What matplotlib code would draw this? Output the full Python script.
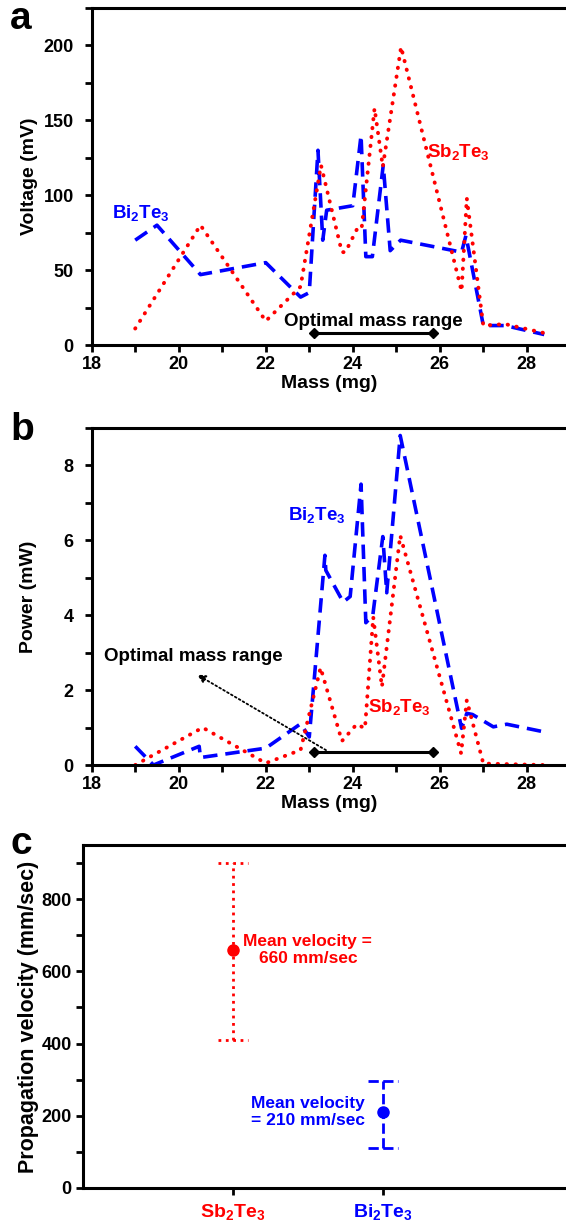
import matplotlib
matplotlib.use('Agg')
import matplotlib.pyplot as plt
from matplotlib.ticker import MultipleLocator
import numpy as np

plt.rcParams['font.family'] = ['Liberation Sans', 'DejaVu Sans']
plt.rcParams['font.weight'] = 'bold'
plt.rcParams['mathtext.fontset'] = 'custom'
plt.rcParams['mathtext.rm'] = 'Liberation Sans:bold'
plt.rcParams['mathtext.default'] = 'rm'

BI = r'Bi$_\mathrm{2}$Te$_\mathrm{3}$'
SB = r'Sb$_\mathrm{2}$Te$_\mathrm{3}$'

# panel a: voltage vs mass
bi_v_mass = [19.0, 19.5, 20.5, 22.0, 22.8, 23.0, 23.2, 23.31, 23.4, 24.0, 24.19, 24.3, 24.45,
             24.7, 24.86, 25.1, 26.5, 26.6, 27.0, 27.5, 28.4]
bi_v = [70, 80, 47, 55, 32, 35, 130, 70, 90, 93, 140, 59, 59,
        120, 63, 70, 62, 73, 13, 13, 7]
sb_v_mass = [19.0, 20.5, 22.0, 22.8, 23.27, 23.75, 23.83, 24.09, 24.2, 24.5, 24.69, 25.11,
             26.5, 26.62, 27.0, 27.5, 28.4]
sb_v = [11, 80, 16, 39, 120, 62, 62, 77, 77, 158, 119, 199,
        36, 98, 13, 14, 8]

# panel b: power vs mass
bi_p_mass = [19.0, 19.42, 20.47, 20.5, 22.0, 22.8, 23.0, 23.36, 23.38, 23.78, 23.94, 24.19,
             24.3, 24.46, 24.69, 24.78, 25.09, 26.5, 26.62, 26.75, 27.23, 27.54, 28.46]
bi_p = [0.5, 0.0, 0.5, 0.2, 0.45, 1.1, 0.75, 5.6, 5.2, 4.35, 4.5, 7.5,
        3.8, 4.0, 6.1, 4.6, 8.8, 0.98, 1.38, 1.35, 1.02, 1.09, 0.87]
sb_p_mass = [19.0, 20.55, 22.0, 22.8, 23.26, 23.75, 24.09, 24.28, 24.47, 24.67, 25.09,
             26.49, 26.62, 27.0, 28.4]
sb_p = [0.0, 1.0, 0.05, 0.4, 2.6, 0.64, 1.09, 0.98, 3.95, 2.09, 6.13,
        0.31, 1.73, 0.04, 0.0]

opt_range = [23.1, 25.85]

# panel c: propagation velocity
materials = [SB, BI]
mean_vel = [660, 210]
vel_low = [410, 110]
vel_high = [900, 295]
mat_colors = ['#ff0000', '#0000ff']
mat_styles = [':', '--']

blue = '#0000ff'
red = '#ff0000'

fig = plt.figure(figsize=(5.66, 12.27), dpi=100)
ax_a = fig.add_axes([0.162, 0.7188, 0.838, 0.2747])
ax_b = fig.add_axes([0.162, 0.3765, 0.838, 0.2747])
ax_c = fig.add_axes([0.1466, 0.0318, 0.8534, 0.2795])

for ax in (ax_a, ax_b, ax_c):
    ax.spines['right'].set_visible(False)
    for s in ('left', 'top', 'bottom'):
        ax.spines[s].set_linewidth(2.2)
    ax.tick_params(which='both', direction='out', width=2, length=5, labelsize=13, pad=3)
for ax in (ax_a, ax_b):
    ax.tick_params(axis='y', pad=8)

# --- a ---
ax_a.plot(bi_v_mass, bi_v, color=blue, ls=(0, (4, 2.2)), lw=2.6)
ax_a.plot(sb_v_mass, sb_v, color=red, ls=(0, (0.1, 2.2)), lw=2.8, dash_capstyle='round')
ax_a.set_xlim(18, 28.9)
ax_a.set_ylim(0, 225)
ax_a.xaxis.set_major_locator(MultipleLocator(2))
ax_a.xaxis.set_minor_locator(MultipleLocator(1))
ax_a.yaxis.set_major_locator(MultipleLocator(50))
ax_a.yaxis.set_minor_locator(MultipleLocator(25))
ax_a.set_xlabel('Mass (mg)', fontsize=14, fontweight='bold', labelpad=1)
ax_a.set_ylabel('Voltage (mV)', fontsize=14, fontweight='bold', labelpad=4)
ax_a.plot(opt_range, [7.8, 7.8], color='black', lw=2.2, marker='D', markersize=5)
ax_a.text(np.mean(opt_range), 16, 'Optimal mass range', ha='center', va='center',
          fontsize=13.5, fontweight='bold')
ax_a.text(18.46, 88, BI, color=blue, fontsize=13.5, fontweight='bold', va='center')
ax_a.text(25.7, 129, SB, color=red, fontsize=13.5, fontweight='bold', va='center')

# --- b ---
ax_b.plot(bi_p_mass, bi_p, color=blue, ls=(0, (4, 2.2)), lw=2.6)
ax_b.plot(sb_p_mass, sb_p, color=red, ls=(0, (0.1, 2.2)), lw=2.8, dash_capstyle='round')
ax_b.set_xlim(18, 28.9)
ax_b.set_ylim(0, 9)
ax_b.xaxis.set_major_locator(MultipleLocator(2))
ax_b.xaxis.set_minor_locator(MultipleLocator(1))
ax_b.yaxis.set_major_locator(MultipleLocator(2))
ax_b.yaxis.set_minor_locator(MultipleLocator(1))
ax_b.set_xlabel('Mass (mg)', fontsize=14, fontweight='bold', labelpad=1)
ax_b.set_ylabel('Power (mW)', fontsize=14, fontweight='bold', labelpad=19)
ax_b.plot(opt_range, [0.36, 0.36], color='black', lw=2.2, marker='D', markersize=5)
ax_b.annotate('', xy=(20.37, 2.45), xytext=(23.44, 0.36),
              arrowprops=dict(arrowstyle='-|>', color='black', lw=1.3, ls=(0, (1, 1.5)),
                              mutation_scale=12))
ax_b.text(20.34, 2.91, 'Optimal mass range', ha='center', va='center',
          fontsize=13.5, fontweight='bold')
ax_b.text(22.5, 6.67, BI, color=blue, fontsize=13.5, fontweight='bold', va='center')
ax_b.text(24.34, 1.56, SB, color=red, fontsize=13.5, fontweight='bold', va='center')

# --- c ---
xpos = np.arange(1, len(materials) + 1)
cap = 0.1
for x, m, lo, hi, c, ls in zip(xpos, mean_vel, vel_low, vel_high, mat_colors, mat_styles):
    ax_c.vlines(x, lo, hi, colors=c, linestyles=ls, lw=2)
    ax_c.hlines([lo, hi], x - cap, x + cap, colors=c, linestyles=ls, lw=2)
    ax_c.plot(x, m, 'o', color=c, markersize=8)
ax_c.text(xpos[0] + 0.07, mean_vel[0], 'Mean velocity =\n660 mm/sec', color=red,
          fontsize=12.5, fontweight='bold', ha='left', va='center', multialignment='center')
ax_c.text(xpos[1] - 0.12, mean_vel[1], 'Mean velocity\n= 210 mm/sec', color=blue,
          fontsize=12.5, fontweight='bold', ha='right', va='center', multialignment='left')
ax_c.set_xlim(0, 3.22)
ax_c.set_ylim(0, 950)
ax_c.set_xticks(xpos)
ax_c.set_xticklabels(materials, fontsize=14, fontweight='bold')
for lab, c in zip(ax_c.get_xticklabels(), mat_colors):
    lab.set_color(c)
ax_c.yaxis.set_major_locator(MultipleLocator(200))
ax_c.yaxis.set_minor_locator(MultipleLocator(100))
ax_c.tick_params(axis='x', pad=5)
ax_c.set_ylabel('Propagation velocity (mm/sec)', fontsize=15.5, fontweight='bold', labelpad=2)

for ax in (ax_a, ax_b, ax_c):
    for lab in ax.get_xticklabels() + ax.get_yticklabels():
        lab.set_fontweight('bold')

fig.text(0.018, 0.999, 'a', fontsize=28, fontweight='bold', va='top')
fig.text(0.018, 0.664, 'b', fontsize=28, fontweight='bold', va='top')
fig.text(0.018, 0.327, 'c', fontsize=28, fontweight='bold', va='top')

fig.savefig('out.png', dpi=100)
